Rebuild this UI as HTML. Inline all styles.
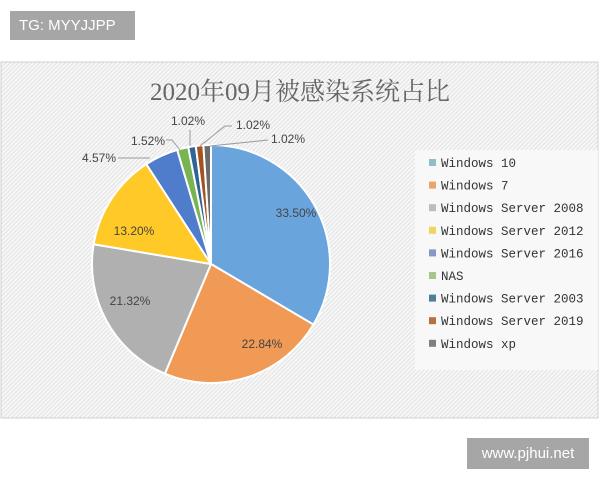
<!DOCTYPE html>
<html><head><meta charset="utf-8"><style>
body{margin:0;width:600px;height:480px;background:#fff;position:relative;overflow:hidden;font-family:"Liberation Sans","Noto Sans CJK SC",sans-serif}
.tg{position:absolute;left:10px;top:11px;width:125px;height:29px;background:#a6a6a6;color:#fff;font-size:15px;line-height:29px;text-indent:9px}
.wm{position:absolute;left:467px;top:438px;width:122px;height:31px;background:#a6a6a6;color:#fff;font-size:15px;line-height:31px;text-align:center}
</style></head><body>
<div class="tg">TG: MYYJJPP</div>
<svg id="s" width="600" height="480" style="position:absolute;left:0;top:0">
<defs><pattern id="h" width="3" height="3" patternUnits="userSpaceOnUse" patternTransform="rotate(45)"><rect width="3" height="3" fill="#f7f7f7"/><rect width="1" height="3" fill="#e2e2e2"/></pattern></defs>
<rect x="1" y="62" width="597" height="356" fill="url(#h)" stroke="#d0d0d0"/>
<text x="300" y="100" text-anchor="middle" font-family="Liberation Serif,Noto Serif CJK SC,serif" font-size="25" fill="#666">2020年09月被感染系统占比</text>
<g id="pie"></g>
<g font-size="12" fill="#444" font-family="Liberation Sans,sans-serif">
<text x="296" y="217" text-anchor="middle">33.50%</text>
<text x="262" y="348" text-anchor="middle">22.84%</text>
<text x="130" y="305" text-anchor="middle">21.32%</text>
<text x="134" y="235" text-anchor="middle">13.20%</text>
<text x="82" y="162">4.57%</text>
<text x="131" y="145">1.52%</text>
<text x="171" y="125">1.02%</text>
<text x="236" y="129">1.02%</text>
<text x="271" y="143">1.02%</text>
</g>
<g stroke="#999" fill="none" stroke-width="1">
<path d="M118 158 L150 158"/><path d="M166 140 L172 140 L180 150"/><path d="M190 130 L190 146"/><path d="M232 126 L225 126 L200 146"/><path d="M268 140 L210 146"/>
</g>
<g id="leg" font-family="Liberation Mono,monospace" font-size="12.5" fill="#333"></g>
</svg>
<div class="wm">www.pjhui.net</div>
<script>
var cx=211,cy=264,r=119;
var d=[[33.5,'#69a5dc'],[22.84,'#f09a55'],[21.32,'#b0b0b0'],[13.2,'#ffc928'],[4.57,'#4f7ccb'],[1.52,'#78b452'],[1.02,'#2e6594'],[1.02,'#a65220'],[1.02,'#6a6a6a']];
var a=0,g='',tot=100.01;
d.forEach(function(s){var a2=a+s[0]/tot*2*Math.PI;
var x1=cx+r*Math.sin(a),y1=cy-r*Math.cos(a),x2=cx+r*Math.sin(a2),y2=cy-r*Math.cos(a2);
g+='<path d="M'+cx+' '+cy+' L'+x1+' '+y1+' A'+r+' '+r+' 0 '+((a2-a)>Math.PI?1:0)+' 1 '+x2+' '+y2+' Z" fill="'+s[1]+'" stroke="#fff" stroke-width="2"/>';a=a2;});
document.getElementById('pie').innerHTML=g;
var n=['Windows 10','Windows 7','Windows Server 2008','Windows Server 2012','Windows Server 2016','NAS','Windows Server 2003','Windows Server 2019','Windows xp'];
var c=['#8fbfc6','#e8a66c','#bdbdbd','#f1d55a','#8a96c8','#a9c58a','#4f7f9a','#b8703c','#7f7f7f'];
var l='<rect x="415" y="150" width="183" height="220" fill="#f8f8f8"/>';
n.forEach(function(t,i){var y=167+i*22.6;l+='<rect x="429" y="'+(y-8)+'" width="7" height="7" fill="'+c[i]+'"/><text x="441" y="'+(y)+'">'+t+'</text>';});
document.getElementById('leg').innerHTML=l;
</script>
</body></html>
